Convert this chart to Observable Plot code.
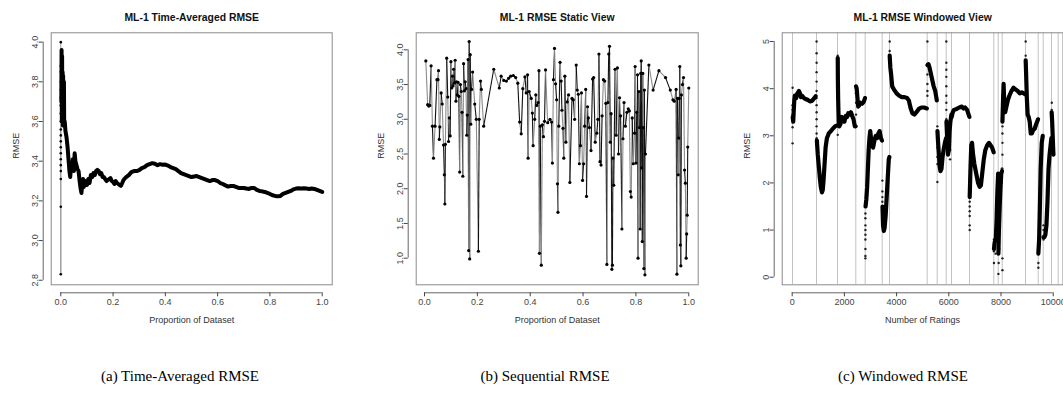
<!DOCTYPE html>
<html><head><meta charset="utf-8">
<script src="https://cdn.jsdelivr.net/npm/d3@7"></script>
<script src="https://cdn.jsdelivr.net/npm/@observablehq/plot@0.6"></script>
<style>
html,body{margin:0;padding:0;background:#fff;width:1063px;height:394px;overflow:hidden;}
#wrap{position:relative;width:1063px;height:394px;overflow:hidden;}
.panel{position:absolute;top:0;}
.panel svg{overflow:visible;}
.cap{position:absolute;top:367px;font-family:"Liberation Serif","Times New Roman",serif;font-size:15px;color:#000;transform:translateX(-50%);white-space:nowrap;line-height:18px;}
</style></head><body><div id="wrap"></div>
<script>
const FONT = "'Liberation Sans', Arial, Helvetica, sans-serif";

// ---------- text ----------
const titles = ["ML-1 Time-Averaged RMSE", "ML-1 RMSE Static View", "ML-1 RMSE Windowed View"];
const xLabels = ["Proportion of Dataset", "Proportion of Dataset", "Number of Ratings"];
const yLabel = "RMSE";
const captions = ["(a) Time-Averaged RMSE", "(b) Sequential RMSE", "(c) Windowed RMSE"];

// ---------- ticks ----------
const p1XTicks = [0, 0.2, 0.4, 0.6, 0.8, 1.0];
const p1YTicks = [2.8, 3.0, 3.2, 3.4, 3.6, 3.8, 4.0];
const p2XTicks = [0, 0.2, 0.4, 0.6, 0.8, 1.0];
const p2YTicks = [1.0, 1.5, 2.0, 2.5, 3.0, 3.5, 4.0];
const p3XTicks = [0, 2000, 4000, 6000, 8000, 10000];
const p3YTicks = [0, 1, 2, 3, 4, 5];

// ---------- panel 1: time-averaged RMSE ----------
const p1SpikeX = [0, 0, 0, 0, 0, 0, 0, 0, 0, 0, 0, 0, 0, 0, 0, 0, 0, 0, 0, 0];
const p1SpikeY = [4.0, 2.83, 3.17, 3.31, 3.35, 3.38, 3.41, 3.44, 3.47, 3.5, 3.53, 3.56, 3.6, 3.64, 3.68, 3.72, 3.76, 3.8, 3.85, 3.88];
const p1Curve = [
  [0.002,3.7],[0.003,3.96],[0.004,3.6],[0.005,3.93],[0.006,3.62],[0.007,3.85],[0.008,3.58],[0.009,3.83],
  [0.010,3.6],[0.012,3.8],[0.013,3.58],[0.015,3.6],[0.018,3.55],[0.022,3.52],[0.026,3.47],[0.030,3.4],
  [0.033,3.35],[0.036,3.32],[0.040,3.38],[0.043,3.35],[0.046,3.41],[0.050,3.35],[0.053,3.44],[0.056,3.4],
  [0.060,3.38],[0.064,3.36],[0.068,3.35],[0.072,3.3],[0.076,3.26],[0.079,3.24],[0.082,3.28],[0.085,3.31],
  [0.088,3.27],[0.092,3.3],[0.096,3.29],[0.100,3.28],[0.105,3.31],[0.110,3.29],[0.115,3.33],[0.120,3.32],
  [0.125,3.34],[0.130,3.33],[0.135,3.35],[0.140,3.356],[0.145,3.35],[0.150,3.335],[0.155,3.34],[0.160,3.32],
  [0.165,3.32],[0.170,3.31],[0.175,3.3],[0.180,3.305],[0.185,3.31],[0.190,3.315],[0.195,3.3],[0.200,3.295],
  [0.205,3.285],[0.210,3.3],[0.215,3.29],[0.220,3.285],[0.225,3.28],[0.230,3.276],[0.235,3.29],[0.240,3.305],
  [0.250,3.32],[0.260,3.33],[0.270,3.345],[0.280,3.35],[0.290,3.35],[0.300,3.355],[0.310,3.365],[0.320,3.37],
  [0.330,3.38],[0.340,3.385],[0.350,3.39],[0.360,3.387],[0.370,3.38],[0.380,3.385],[0.390,3.382],[0.400,3.383],
  [0.410,3.378],[0.420,3.37],[0.430,3.365],[0.440,3.36],[0.450,3.35],[0.460,3.34],[0.470,3.335],[0.480,3.33],
  [0.490,3.325],[0.500,3.32],[0.510,3.323],[0.520,3.325],[0.530,3.32],[0.540,3.315],[0.550,3.31],[0.560,3.305],
  [0.570,3.3],[0.580,3.305],[0.590,3.305],[0.600,3.3],[0.610,3.29],[0.620,3.285],[0.630,3.278],[0.640,3.272],
  [0.650,3.275],[0.660,3.275],[0.670,3.27],[0.680,3.265],[0.690,3.265],[0.700,3.265],[0.710,3.262],[0.720,3.26],
  [0.730,3.265],[0.740,3.265],[0.750,3.255],[0.760,3.25],[0.770,3.248],[0.780,3.245],[0.790,3.24],[0.800,3.235],
  [0.810,3.228],[0.820,3.225],[0.830,3.223],[0.840,3.225],[0.850,3.235],[0.860,3.24],[0.870,3.245],[0.880,3.25],
  [0.890,3.258],[0.900,3.262],[0.910,3.263],[0.920,3.262],[0.930,3.263],[0.940,3.262],[0.950,3.26],[0.960,3.262],
  [0.970,3.26],[0.980,3.255],[0.990,3.25],[1.000,3.245]
];

// ---------- panel 2: sequential RMSE ----------
const p2Points = [
  [0.005,3.84],[0.012,3.21],[0.016,3.19],[0.020,3.20],[0.025,3.77],[0.030,2.90],[0.034,2.44],[0.040,2.90],
  [0.047,3.57],[0.051,3.57],[0.053,3.70],[0.056,2.71],[0.058,2.89],[0.063,3.38],[0.067,3.22],[0.072,2.63],
  [0.075,2.20],[0.077,1.78],[0.079,2.64],[0.084,3.88],[0.088,3.32],[0.091,2.68],[0.094,3.02],[0.097,2.76],
  [0.100,3.83],[0.103,3.45],[0.106,3.62],[0.108,3.48],[0.110,3.72],[0.113,3.52],[0.116,3.85],[0.119,3.26],
  [0.121,3.54],[0.124,3.35],[0.127,3.53],[0.130,3.33],[0.133,2.24],[0.136,3.50],[0.139,3.40],[0.142,3.10],
  [0.145,2.18],[0.148,3.80],[0.151,3.41],[0.154,3.54],[0.157,3.44],[0.160,2.77],[0.162,3.06],[0.165,3.86],
  [0.167,1.11],[0.169,4.12],[0.171,0.99],[0.173,3.93],[0.175,2.93],[0.178,3.43],[0.182,3.68],[0.190,3.22],
  [0.196,3.00],[0.204,1.10],[0.207,3.00],[0.212,3.55],[0.215,3.43],[0.224,2.90],[0.262,3.72],[0.283,3.45],
  [0.290,3.62],[0.300,3.56],[0.310,3.55],[0.318,3.59],[0.326,3.62],[0.336,3.63],[0.345,3.60],[0.353,3.52],
  [0.360,2.96],[0.366,2.79],[0.372,3.44],[0.380,3.61],[0.385,3.38],[0.390,3.64],[0.392,2.44],[0.396,3.40],
  [0.404,3.30],[0.408,3.09],[0.411,2.62],[0.417,3.00],[0.421,3.35],[0.425,3.20],[0.430,3.24],[0.433,3.70],
  [0.435,1.07],[0.438,2.90],[0.442,0.90],[0.446,2.92],[0.450,2.75],[0.454,2.97],[0.458,3.71],[0.466,2.95],
  [0.475,3.00],[0.481,2.96],[0.484,2.37],[0.488,3.57],[0.492,4.02],[0.496,3.51],[0.500,3.28],[0.503,2.07],
  [0.505,1.66],[0.508,2.90],[0.513,3.82],[0.517,3.55],[0.520,3.13],[0.524,2.87],[0.527,2.44],[0.531,3.62],
  [0.535,2.67],[0.540,3.25],[0.545,3.35],[0.550,2.09],[0.558,3.30],[0.563,3.28],[0.568,3.00],[0.574,3.78],
  [0.578,3.42],[0.582,3.36],[0.586,2.36],[0.590,2.62],[0.594,3.38],[0.598,2.12],[0.602,2.36],[0.606,2.90],
  [0.610,3.43],[0.613,1.89],[0.617,3.18],[0.620,3.02],[0.624,2.88],[0.630,2.55],[0.636,3.58],[0.640,3.60],
  [0.646,2.67],[0.652,2.80],[0.656,3.00],[0.660,3.94],[0.664,2.39],[0.668,2.34],[0.672,3.05],[0.677,3.57],
  [0.682,3.55],[0.686,3.23],[0.690,0.91],[0.694,3.24],[0.697,3.94],[0.700,4.05],[0.703,2.67],[0.706,3.08],
  [0.709,0.84],[0.711,0.90],[0.713,2.44],[0.716,2.05],[0.721,3.72],[0.725,2.77],[0.730,3.74],[0.734,2.50],
  [0.738,3.31],[0.742,3.05],[0.747,1.42],[0.751,2.72],[0.755,3.24],[0.760,2.90],[0.766,3.10],[0.771,3.15],
  [0.775,3.12],[0.779,1.96],[0.782,1.88],[0.786,3.02],[0.790,2.36],[0.795,2.80],[0.797,3.76],[0.800,2.37],
  [0.803,3.10],[0.806,3.64],[0.808,1.00],[0.811,3.40],[0.813,2.88],[0.816,1.42],[0.818,3.66],[0.820,3.84],
  [0.822,2.30],[0.824,1.24],[0.826,3.66],[0.828,2.88],[0.830,0.85],[0.832,3.42],[0.834,0.76],[0.836,2.50],
  [0.849,3.78],[0.865,3.42],[0.887,3.70],[0.912,3.60],[0.930,3.42],[0.940,3.28],[0.945,3.26],[0.952,3.43],
  [0.955,0.77],[0.957,3.30],[0.960,2.20],[0.962,2.73],[0.964,3.30],[0.966,3.76],[0.968,1.19],[0.970,0.89],
  [0.972,3.35],[0.976,3.50],[0.980,3.60],[0.984,2.27],[0.987,2.08],[0.990,1.00],[0.992,1.35],[0.994,1.62],
  [0.996,2.60],[1.000,3.45]
];

// ---------- panel 3: windowed RMSE ----------
const p3Windows = [11, 931, 1736, 2437, 2797, 3448, 3728, 5172, 5556, 5900, 6104, 6793, 7724, 7893, 8046, 8939, 9425, 9617, 9935, 10191];
const p3Curves = [
  [[20,3.4],[40,3.3],[60,3.55],[80,3.75],[100,3.85],[150,3.8],[200,3.9],[260,3.95],[300,3.9],[330,3.82],[380,3.85],[450,3.8],[520,3.78],[600,3.76],[680,3.73],[750,3.74],[820,3.78],[900,3.84]],
  [[945,2.9],[980,2.6],[1020,2.35],[1060,2.1],[1100,1.9],[1140,1.8],[1170,1.85],[1200,2.05],[1240,2.4],[1280,2.75],[1330,2.95],[1400,3.05],[1480,3.1],[1560,3.15],[1640,3.2],[1720,3.22]],
  [[1745,4.65],[1750,4.2],[1760,3.8],[1780,3.3],[1800,3.2],[1850,3.25],[1900,3.4],[1950,3.35],[2000,3.3],[2050,3.42],[2100,3.4],[2150,3.48],[2200,3.45],[2250,3.5],[2300,3.42],[2350,3.35],[2400,3.2],[2430,3.2]],
  [[2445,4.05],[2470,4.0],[2500,3.8],[2530,3.62],[2570,3.65],[2620,3.7],[2680,3.68],[2740,3.72],[2790,3.8]],
  [[2810,1.5],[2840,1.65],[2870,1.9],[2900,2.3],[2930,2.7],[2960,2.95],[2990,3.1],[3020,2.95],[3040,2.8],[3070,2.9],[3100,2.75],[3150,2.9],[3200,3.0],[3250,2.95],[3300,3.05],[3350,3.1],[3400,2.95],[3440,2.9]],
  [[3460,1.5],[3480,1.1],[3510,0.98],[3540,1.05],[3580,1.3],[3620,1.7],[3660,2.1],[3700,2.5],[3725,2.55]],
  [[3735,4.7],[3760,4.45],[3790,4.3],[3830,4.05],[3900,3.98],[4000,3.9],[4100,3.85],[4200,3.82],[4300,3.82],[4400,3.8],[4470,3.75],[4530,3.6],[4600,3.48],[4680,3.45],[4760,3.5],[4850,3.57],[4950,3.6],[5050,3.6],[5160,3.58]],
  [[5180,4.5],[5220,4.52],[5260,4.45],[5300,4.35],[5360,4.2],[5420,4.05],[5480,3.95],[5540,3.75]],
  [[5565,3.1],[5590,2.85],[5620,2.6],[5650,2.35],[5680,2.25],[5720,2.3],[5760,2.55],[5800,2.7],[5850,2.85],[5895,2.95]],
  [[5910,3.3],[5940,2.9],[5970,2.6],[6000,2.7],[6030,3.1],[6060,3.3],[6100,3.45]],
  [[6110,3.4],[6150,3.5],[6200,3.55],[6300,3.57],[6400,3.6],[6500,3.62],[6560,3.58],[6620,3.6],[6700,3.55],[6760,3.45],[6790,3.4]],
  [[6800,1.7],[6830,2.3],[6860,2.8],[6890,2.85],[6930,2.6],[6980,2.4],[7050,2.2],[7120,2.0],[7180,1.92],[7230,1.95],[7280,2.2],[7340,2.5],[7400,2.7],[7470,2.8],[7540,2.85],[7600,2.8],[7660,2.75],[7720,2.65]],
  [[7730,0.6],[7760,0.75],[7800,0.8],[7830,1.2],[7860,1.8],[7890,2.2]],
  [[7900,0.5],[7920,1.0],[7950,1.5],[7980,1.9],[8010,2.2],[8040,2.25]],
  [[8055,3.3],[8080,3.8],[8100,4.1],[8130,3.6],[8160,3.5],[8200,3.6],[8260,3.75],[8320,3.85],[8400,3.95],[8480,4.02],[8560,3.98],[8640,3.95],[8720,3.9],[8800,3.92],[8870,3.9],[8935,3.88]],
  [[8945,4.6],[8960,4.35],[8990,3.8],[9020,3.45],[9060,3.4],[9100,3.3],[9140,3.05],[9180,3.05],[9230,3.12],[9290,3.15],[9350,3.25],[9420,3.35]],
  [[9430,0.5],[9460,0.8],[9490,1.5],[9520,2.3],[9560,2.85],[9600,3.0]],
  [[9625,0.85],[9660,0.85],[9700,0.9],[9740,1.1],[9780,1.6],[9820,2.3],[9860,2.6],[9900,2.8],[9930,2.95]],
  [[9940,3.5],[9960,3.3],[9980,3.0],[10000,2.7],[10010,2.6]]
];
const p3Scatter = [
  [15,2.84],[15,3.18],[15,3.35],[15,3.45],[15,3.55],[15,3.65],[15,4.02],
  [935,5.0],[935,4.75],[935,4.55],[935,4.35],[935,4.15],[935,3.95],[935,3.8],[935,3.65],[935,3.5],[935,3.35],[935,3.2],[935,3.05],[935,2.95],
  [1745,4.7],[1745,4.6],[1745,4.45],[1745,4.3],[1745,4.15],[1745,4.0],[1745,3.02],
  [2445,3.2],[2445,3.45],[2445,3.7],[2445,3.9],
  [2805,0.4],[2805,0.45],[2805,0.6],[2805,0.8],[2805,0.9],[2805,1.0],[2805,1.1],[2805,1.25],[2805,1.35],[2805,1.6],
  [3455,2.05],[3455,1.82],[3455,1.7],[3455,1.6],[3455,1.5],[3455,1.4],[3455,1.3],[3455,1.2],[3455,1.1],
  [3520,1.0],[3520,1.1],[3520,1.2],
  [3735,5.0],[3735,4.8],
  [5180,5.0],[5180,4.3],[5180,4.1],[5180,3.95],[5180,3.85],
  [5562,3.2],[5562,3.0],[5562,2.9],[5562,2.75],[5562,2.55],[5562,2.4],[5562,2.02],
  [5905,5.0],[5905,4.55],[5905,4.4],[5905,4.25],[5905,4.05],[5905,3.85],[5905,3.7],[5905,3.55],[5905,3.35],
  [6050,2.5],[6050,2.7],
  [6800,1.0],[6800,1.1],[6800,1.3],[6800,1.4],[6800,1.5],[6800,1.6],[6800,1.75],
  [7730,0.3],[7730,0.55],[7730,0.7],[7730,0.8],[7790,0.5],[7790,0.9],
  [7900,0.07],[7910,0.3],[7930,0.6],[7960,1.2],[7990,1.6],[8020,2.0],[8030,2.3],
  [8055,0.15],[8055,0.4],[8055,2.3],[8055,2.6],[8055,2.85],[8055,3.05],[8055,3.2],
  [8945,5.0],[8945,4.7],[8945,4.6],
  [9432,0.2],[9432,0.3],[9432,0.6],[9432,0.8],[9480,1.2],[9480,1.6],[9480,1.9],
  [9630,0.8],[9630,1.0],[9630,1.1],
  [9945,3.7],[9945,3.55],[9945,3.4],[9945,3.2]
];

// ---------- builder ----------
const last = a => a[a.length - 1];
function panel(o) {
  const marks = [
    ...o.marks,
    Plot.frame({stroke: "#8a8a8a", strokeWidth: 1}),
    Plot.ruleY([o.yDomain[0]], {x1: o.xTicks[0], x2: last(o.xTicks), dy: 8, stroke: "#666"}),
    Plot.axisX({ticks: o.xTicks, tickFormat: o.xFmt, tickSize: 4, tickPadding: 2, dy: 8, label: null, color: "#444", fontSize: 9, fontFamily: FONT}),
    Plot.ruleX([o.xDomain[0]], {y1: o.yTicks[0], y2: last(o.yTicks), dx: -8, stroke: "#666"}),
    Plot.axisY({ticks: o.yTicks, tickFormat: o.yFmt, tickSize: 4, tickPadding: 1, dx: -8, tickRotate: -90, label: null, color: "#444", fontSize: 9, fontFamily: FONT}),
    Plot.text([o.title], {text: d => d, frameAnchor: "top", dy: -19, fontWeight: "bold", fontSize: 10.4, fontFamily: FONT, fill: "#111"}),
    Plot.text([o.xLabel], {text: d => d, frameAnchor: "bottom", dy: 38, fontSize: 9, fontFamily: FONT, fill: "#333"}),
    Plot.text([yLabel], {text: d => d, frameAnchor: "left", dx: -35, rotate: -90, fontSize: 9, fontFamily: FONT, fill: "#333"})
  ];
  const svg = Plot.plot({
    width: o.width, height: 340,
    marginLeft: o.mL, marginRight: o.mR, marginTop: 32.3, marginBottom: 55.7,
    x: {domain: o.xDomain, label: null},
    y: {domain: o.yDomain, label: null},
    style: {background: "transparent", overflow: "visible", fontFamily: FONT},
    marks
  });
  const div = document.createElement("div");
  div.className = "panel";
  div.style.left = o.left + "px";
  div.appendChild(svg);
  document.getElementById("wrap").appendChild(div);
}

// Panel 1
panel({
  left: 0, width: 355, mL: 50.7, mR: 23.3,
  xDomain: [-0.0367, 1.0383], yDomain: [2.777, 4.047],
  xTicks: p1XTicks, yTicks: p1YTicks, xFmt: d3.format(".1f"), yFmt: d3.format(".1f"),
  title: titles[0], xLabel: xLabels[0],
  marks: [
    Plot.line(p1SpikeY, {x: p1SpikeX, y: p1SpikeY, stroke: "#9a9a9a", strokeWidth: 1}),
    Plot.dot(p1SpikeY, {x: p1SpikeX, y: p1SpikeY, r: 1.3, fill: "#000", stroke: "none"}),
    Plot.line(p1Curve, {x: d => d[0], y: d => d[1], stroke: "#000", strokeWidth: 4, strokeLinejoin: "round"})
  ]
});

// Panel 2
const p2Segs = p2Points.slice(1).map((p, i) => ({a: p2Points[i], b: p, i}));
panel({
  left: 355, width: 355, mL: 60.7, mR: 12.3,
  xDomain: [-0.0314, 1.0356], yDomain: [0.617, 4.245],
  xTicks: p2XTicks, yTicks: p2YTicks, xFmt: d3.format(".1f"), yFmt: d3.format(".1f"),
  title: titles[1], xLabel: xLabels[1],
  marks: [
    Plot.link(p2Segs, {x1: d => d.a[0], y1: d => d.a[1], x2: d => d.b[0], y2: d => d.b[1],
      stroke: d => (d.i % 2 ? "#111" : "#8c8c8c"), strokeWidth: 1.1}),
    Plot.dot(p2Points, {x: d => d[0], y: d => d[1], r: 1.6, fill: "#000", stroke: "none"})
  ]
});

// Panel 3
const p3Flat = p3Curves.flatMap((pts, w) => pts.map(p => ({x: p[0], y: p[1], w})));
panel({
  left: 710, width: 353, mL: 71.7, mR: 0.5,
  xDomain: [-383, 10375], yDomain: [-0.161, 5.185],
  xTicks: p3XTicks, yTicks: p3YTicks, xFmt: d3.format("d"), yFmt: d3.format("d"),
  title: titles[2], xLabel: xLabels[2],
  marks: [
    Plot.ruleX(p3Windows, {stroke: "#c2c2c2", strokeWidth: 1}),
    Plot.dot(p3Scatter, {x: d => d[0], y: d => d[1], r: 1.2, fill: "#222", stroke: "none"}),
    Plot.line(p3Flat, {x: "x", y: "y", z: "w", stroke: "#000", strokeWidth: 4.2, strokeLinejoin: "round", strokeLinecap: "round"})
  ]
});

// captions
const capCenters = [180, 545, 903];
captions.forEach((c, i) => {
  const d = document.createElement("div");
  d.className = "cap";
  d.style.left = capCenters[i] + "px";
  d.textContent = c;
  document.getElementById("wrap").appendChild(d);
});
</script></body></html>
